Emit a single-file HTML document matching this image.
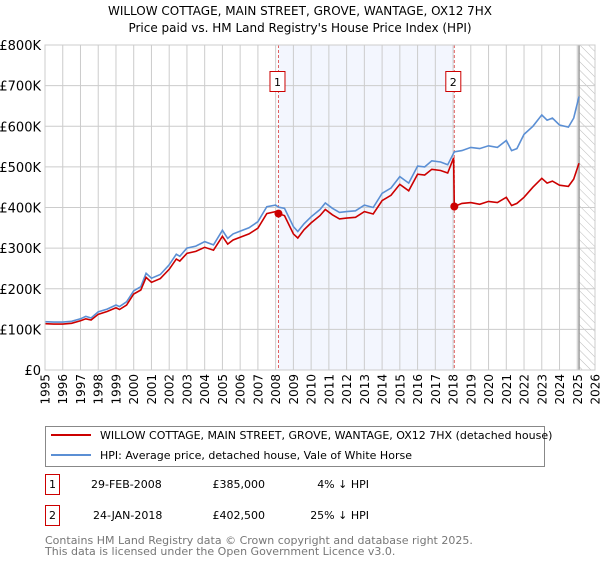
<!DOCTYPE html>
<html><head><meta charset="utf-8"><style>
body{margin:0;background:#fff;font-family:"Liberation Sans","DejaVu Sans",sans-serif;}
svg text{font-family:"DejaVu Sans","Liberation Sans",sans-serif;}
</style></head><body>
<svg id="c" width="600" height="560" viewBox="0 0 600 560">
<defs><pattern id="hatch" width="6" height="6" patternUnits="userSpaceOnUse" patternTransform="rotate(-45)"><line x1="0" y1="0" x2="0" y2="6" stroke="#bbb" stroke-width="1"/></pattern></defs>
<text x="300" y="15" text-anchor="middle" font-size="12">WILLOW COTTAGE, MAIN STREET, GROVE, WANTAGE, OX12 7HX</text>
<text x="300" y="32" text-anchor="middle" font-size="12">Price paid vs. HM Land Registry's House Price Index (HPI)</text>
<g id="plot"></g>
<g>
<rect x="45.5" y="426.5" width="499" height="40" fill="#fff" stroke="#888"/>
<line x1="51" y1="435" x2="91" y2="435" stroke="#cc0000" stroke-width="2"/>
<text x="100" y="439" font-size="11">WILLOW COTTAGE, MAIN STREET, GROVE, WANTAGE, OX12 7HX (detached house)</text>
<line x1="51" y1="455" x2="91" y2="455" stroke="#5b8fd4" stroke-width="2"/>
<text x="100" y="459" font-size="11">HPI: Average price, detached house, Vale of White Horse</text>
</g>
<g font-size="11">
<rect x="45.5" y="474.5" width="14" height="20" fill="#fff" stroke="#cc0000"/><text x="52.5" y="488" text-anchor="middle">1</text>
<text x="91" y="488">29-FEB-2008</text><text x="265" y="488" text-anchor="end">£385,000</text><text x="369" y="488" text-anchor="end">4% ↓ HPI</text>
<rect x="45.5" y="505.5" width="14" height="20" fill="#fff" stroke="#cc0000"/><text x="52.5" y="519" text-anchor="middle">2</text>
<text x="93" y="519">24-JAN-2018</text><text x="265" y="519" text-anchor="end">£402,500</text><text x="369" y="519" text-anchor="end">25% ↓ HPI</text>
</g>
<text x="45" y="544" font-size="11" fill="#777">Contains HM Land Registry data © Crown copyright and database right 2025.</text>
<text x="45" y="555" font-size="11" fill="#777">This data is licensed under the Open Government Licence v3.0.</text>
</svg>
<script>
const yTicks=[0,100,200,300,400,500,600,700,800];
const yTickLabels=["£0","£100K","£200K","£300K","£400K","£500K","£600K","£700K","£800K"];
const xYears=[1995,1996,1997,1998,1999,2000,2001,2002,2003,2004,2005,2006,2007,2008,2009,2010,2011,2012,2013,2014,2015,2016,2017,2018,2019,2020,2021,2022,2023,2024,2025,2026];
const times=[1995,1995.5,1996,1996.5,1997,1997.3,1997.6,1998,1998.5,1999,1999.2,1999.6,2000,2000.4,2000.7,2001,2001.5,2002,2002.4,2002.6,2003,2003.5,2004,2004.5,2005,2005.3,2005.6,2006,2006.5,2007,2007.5,2008,2008.16,2008.5,2009,2009.25,2009.6,2010,2010.5,2010.8,2011.2,2011.6,2012,2012.5,2013,2013.5,2014,2014.5,2015,2015.5,2016,2016.4,2016.8,2017.3,2017.7,2018.07,2018.5,2019,2019.5,2020,2020.5,2021,2021.3,2021.6,2022,2022.5,2023,2023.3,2023.6,2024,2024.5,2024.8,2025.1];
const hpi=[119,118,118,120,126,132,128,143,150,160,156,168,195,205,238,226,235,259,285,280,300,305,316,308,344,324,335,342,350,365,402,406,401,398,353,341,360,377,395,411,398,388,390,392,406,400,435,448,476,460,502,500,515,512,505,537,540,548,545,552,548,565,540,545,580,600,628,615,620,603,598,620,673];
const redTimes=[1995,1995.5,1996,1996.5,1997,1997.3,1997.6,1998,1998.5,1999,1999.2,1999.6,2000,2000.4,2000.7,2001,2001.5,2002,2002.4,2002.6,2003,2003.5,2004,2004.5,2005,2005.3,2005.6,2006,2006.5,2007,2007.5,2008,2008.16,2008.5,2009,2009.25,2009.6,2010,2010.5,2010.8,2011.2,2011.6,2012,2012.5,2013,2013.5,2014,2014.5,2015,2015.5,2016,2016.4,2016.8,2017.3,2017.7,2018.03,2018.07,2018.5,2019,2019.5,2020,2020.5,2021,2021.3,2021.6,2022,2022.5,2023,2023.3,2023.6,2024,2024.5,2024.8,2025.1];
const redVals=[114,113,113,115,121,126,123,137,144,153,149,160,187,197,228,216,225,248,273,268,287,292,302,295,329,310,320,327,335,349,385,390,385,380,335,325,345,362,380,395,382,372,374,376,390,384,417,430,457,441,482,480,494,491,485,522,402.5,410,412,408,415,412,425,405,410,425,450,472,460,465,455,452,470,509];
const saleTimes=[2008.16,2018.07];
const saleVals=[385,402.5];
const saleLabels=["1","2"];
const dataEnd=2025.1;

const NS="http://www.w3.org/2000/svg";
const X0=45,X1=595,Y0=370,Y1=45;
const xs=t=>X0+(t-1995)/(2026-1995)*(X1-X0);
const ys=v=>Y0-v/800*(Y0-Y1);
const g=document.getElementById('plot');
function mk(tag,attrs){const e=document.createElementNS(NS,tag);for(const k in attrs)e.setAttribute(k,attrs[k]);g.appendChild(e);return e;}
let e;
e=mk('rect',{x:X0,y:Y1,width:X1-X0,height:Y0-Y1,fill:'#fff'});


e=mk('rect',{x:xs(saleTimes[0]),y:Y1,width:xs(saleTimes[1])-xs(saleTimes[0]),height:Y0-Y1,fill:'#f3f6fe'});


e=mk('rect',{x:xs(dataEnd),y:Y1,width:X1-xs(dataEnd),height:Y0-Y1,fill:'url(#hatch)'});


xYears.forEach((yr,i)=>{
  e=mk('line',{x1:xs(yr),x2:xs(yr),y1:Y1,y2:Y0,stroke:'#ccc','stroke-width':1});
  
  
  const lx=xs(yr)+4.5, ly=Y0+4;
  e=mk('text',{x:lx,y:ly,'text-anchor':'end','font-size':12,transform:'rotate(-90 '+lx+' '+ly+')'});
  e.textContent=yr;
  
  
});
yTicks.forEach((v,i)=>{
  e=mk('line',{x1:X0,x2:X1,y1:ys(v),y2:ys(v),stroke:'#ccc','stroke-width':1});
  
  
  e=mk('text',{x:X0-4,y:ys(v)+5,'text-anchor':'end','font-size':13});
  e.textContent=yTickLabels[i];
  
  
});
e=mk('line',{x1:xs(dataEnd),x2:xs(dataEnd),y1:Y1,y2:Y0,stroke:'#999','stroke-width':1.5});


saleTimes.forEach((t,i)=>{
  e=mk('line',{x1:xs(t),x2:xs(t),y1:Y1,y2:Y0,stroke:'#e06060','stroke-width':1,'stroke-dasharray':'3,2'});
  
  
});
let d=times.map((t,i)=>(i?'L':'M')+xs(t).toFixed(1)+','+ys(hpi[i]).toFixed(1)).join('');
e=mk('path',{d:d,fill:'none',stroke:'#5b8fd4','stroke-width':1.6});


d=redTimes.map((t,i)=>(i?'L':'M')+xs(t).toFixed(1)+','+ys(redVals[i]).toFixed(1)).join('');
e=mk('path',{d:d,fill:'none',stroke:'#cc0000','stroke-width':1.6});


saleTimes.forEach((t,i)=>{
  e=mk('circle',{cx:xs(t),cy:ys(saleVals[i]),r:4,fill:'#cc0000'});
  
  
  e=mk('rect',{x:xs(t)-8.5,y:71.5,width:15,height:20,fill:'#fff',stroke:'#cc0000'});
  
  
  e=mk('text',{x:xs(t)-1,y:86,'text-anchor':'middle','font-size':11});
  e.textContent=saleLabels[i];
  
  
});
e=mk('rect',{x:X0,y:Y1,width:X1-X0,height:Y0-Y1,fill:'none',stroke:'#ccc'});


</script>
</body></html>
